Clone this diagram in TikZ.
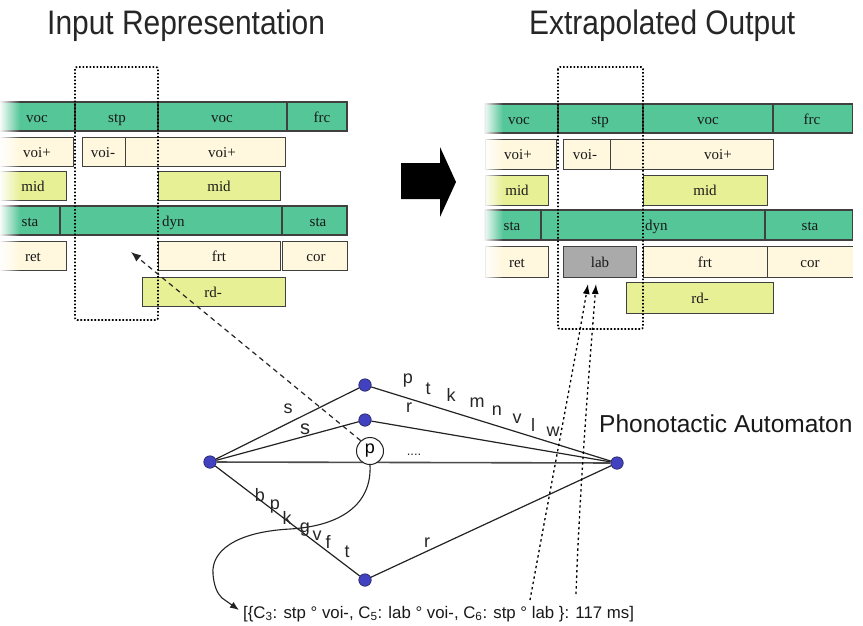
\documentclass[tikz,border=0pt]{standalone}
\usepackage{fontspec}
\setmainfont{Liberation Serif}
\setsansfont{Liberation Sans}
\usetikzlibrary{arrows.meta,shadows,fadings}

\definecolor{cgreen}{RGB}{84,198,152}
\definecolor{ccream}{RGB}{255,248,222}
\definecolor{cmid}{RGB}{232,240,150}
\definecolor{cgrey}{RGB}{170,170,170}
\definecolor{cnode}{RGB}{66,66,192}
\definecolor{cline}{RGB}{35,35,35}

\tikzset{
  cell/.style={draw=black!75, line width=0.9pt, inner sep=0pt, outer sep=0pt, anchor=north west},
  grn/.style={cell, fill=cgreen, line width=1.3pt},
  crm/.style={cell, fill=ccream, drop shadow={shadow xshift=1.2pt, shadow yshift=-1.2pt, opacity=0.35}},
  yel/.style={cell, fill=cmid, drop shadow={shadow xshift=1.2pt, shadow yshift=-1.2pt, opacity=0.35}},
  gry/.style={cell, fill=cgrey, drop shadow={shadow xshift=1.2pt, shadow yshift=-1.2pt, opacity=0.35}},
  celltxt/.style={inner sep=0pt, anchor=base, text=black!90, font=\fontsize{15}{15}\selectfont},
  selbox/.style={draw=black, line width=1.7pt, dash pattern=on 1.6pt off 1.9pt, rounded corners=2pt},
  title/.style={inner sep=0pt, anchor=base west, text=black!85, font=\sffamily\fontsize{34}{34}\selectfont},
  anode/.style={circle, fill=cnode, draw=cnode!45!black, line width=0.6pt, minimum size=12.5pt, inner sep=0pt},
  edge/.style={draw=cline, line width=1.2pt},
  elab/.style={inner sep=0pt, text=black!85, font=\sffamily\fontsize{18}{18}\selectfont},
  dsh/.style={draw=black!85, line width=1.2pt, dash pattern=on 5pt off 4pt, -{Latex[length=10pt,width=8pt]}},
  dots/.style={draw=black, line width=1.3pt, dash pattern=on 2.4pt off 3pt, -{Latex[length=10pt,width=7pt]}},
}

% cell: name, x1, y1, x2, y2, style
\newcommand\tcell[6]{\node[#6, minimum width={(#4-#2)*1pt}, minimum height={(#5-#3)*1pt}] (#1) at (#2,#3) {};}
% label: name, x, baseline y, text
\newcommand\tlab[4]{\node[celltxt] (#1) at (#2,#3) {#4};}

\begin{document}
\begin{tikzpicture}[x=1pt,y=-1pt]
\useasboundingbox (0,0) rectangle (863,625);
\fill[white] (0,0) rectangle (863,625);

% ---------- titles ----------
\node[title] (tin) at (47,34) {\scalebox{0.88}[1]{Input Representation}};
\node[title] (tout) at (529,34) {\scalebox{0.88}[1]{Extrapolated Output}};

% ---------- input table ----------
\tcell{a11}{-3}{102}{75}{131}{grn}
\tcell{a12}{75}{102}{158}{131}{grn}
\tcell{a13}{158}{102}{287}{131}{grn}
\tcell{a14}{287}{102}{347}{131}{grn}
\tcell{a21}{-3}{137}{73}{166}{crm}
\tcell{a22}{82}{137}{125}{166}{crm}
\tcell{a23}{125}{137}{285}{166}{crm}
\tcell{a31}{-3}{171}{66}{200}{yel}
\tcell{a32}{158}{171}{280}{200}{yel}
\tcell{a41}{-3}{206}{60}{235}{grn}
\tcell{a42}{60}{206}{282}{235}{grn}
\tcell{a43}{282}{206}{347}{235}{grn}
\tcell{a51}{-3}{241}{66}{270}{crm}
\tcell{a52}{158}{241}{280}{270}{crm}
\tcell{a53}{282}{241}{347}{270}{crm}
\tcell{a61}{142}{277}{285}{306}{yel}

\tlab{la11}{37}{122}{voc}
\tlab{la12}{117}{122}{stp}
\tlab{la13}{222}{122}{voc}
\tlab{la14}{322}{122}{frc}
\tlab{la21}{37}{157}{voi+}
\tlab{la22}{103}{157}{voi-}
\tlab{la23}{222}{157}{voi+}
\tlab{la31}{33}{191}{mid}
\tlab{la32}{219}{191}{mid}
\tlab{la41}{30}{226}{sta}
\node[celltxt, anchor=base west] (la42) at (162,226) {dyn};
\tlab{la43}{318}{226}{sta}
\tlab{la51}{33}{261}{ret}
\tlab{la52}{219}{261}{frt}
\tlab{la53}{316}{261}{cor}
\tlab{la61}{213}{297}{rd-}

\draw[selbox] (75,67) rectangle (158,320);
\fill[white, path fading=east] (-1,95) rectangle (20,312);

% ---------- output table ----------
\tcell{b11}{485}{104}{558}{133}{grn}
\tcell{b12}{558}{104}{643}{133}{grn}
\tcell{b13}{643}{104}{773}{133}{grn}
\tcell{b14}{773}{104}{853}{133}{grn}
\tcell{b21}{485}{139}{556}{169}{crm}
\tcell{b22}{563}{139}{610}{169}{crm}
\tcell{b23}{610}{139}{773}{169}{crm}
\tcell{b31}{485}{175}{548}{205}{yel}
\tcell{b32}{643}{175}{767}{205}{yel}
\tcell{b41}{485}{210}{541}{240}{grn}
\tcell{b42}{541}{210}{765}{240}{grn}
\tcell{b43}{765}{210}{853}{240}{grn}
\tcell{b51}{485}{246}{548}{277}{crm}
\tcell{b52}{563}{246}{636}{277}{gry}
\tcell{b53}{643}{246}{767}{277}{crm}
\tcell{b54}{767}{246}{853}{277}{crm}
\tcell{b61}{626}{282}{773}{313}{yel}

\tlab{lb11}{519}{124}{voc}
\tlab{lb12}{600}{124}{stp}
\tlab{lb13}{708}{124}{voc}
\tlab{lb14}{812}{124}{frc}
\tlab{lb21}{518}{159}{voi+}
\tlab{lb22}{585}{159}{voi-}
\tlab{lb23}{718}{159}{voi+}
\tlab{lb31}{517}{195}{mid}
\tlab{lb32}{705}{195}{mid}
\tlab{lb41}{512}{230}{sta}
\node[celltxt, anchor=base west] (lb42) at (645,230) {dyn};
\tlab{lb43}{810}{230}{sta}
\tlab{lb51}{517}{267}{ret}
\tlab{lb52}{600}{267}{lab}
\tlab{lb53}{705}{267}{frt}
\tlab{lb54}{810}{267}{cor}
\tlab{lb61}{700}{303}{rd-}

\draw[selbox] (558,67) rectangle (643,329);
\fill[white, path fading=east] (483,95) rectangle (503,320);
\fill[white] (853,95) rectangle (863,320);

% ---------- block arrow ----------
\fill[black] (401,163) -- (440,163) -- (440,147) -- (456,182) -- (440,217)
  -- (440,199) -- (401,199) -- cycle;

% ---------- automaton ----------
\node[anode] (L) at (210,462) {};
\node[anode] (T1) at (365,385) {};
\node[anode] (T2) at (365,420) {};
\node[anode] (B) at (365,580) {};
\node[anode] (R) at (617,463) {};

\draw[edge] (L) -- (T1);
\draw[edge] (T1) -- (R);
\draw[edge] (L) -- (T2);
\draw[edge] (T2) -- (R);
\draw[edge, line width=1.6pt, draw=black!70] (L) -- (R);
\draw[edge] (L) -- (B);
\draw[edge] (B) -- (R);

\node[circle, draw=cline, line width=1pt, fill=white, minimum size=27pt, inner sep=0pt,
  font=\sffamily\fontsize{18}{18}\selectfont] (P) at (370,451) {p};

% edge labels
\node[elab] (s1) at (288,409) {s};
\node[elab, font=\sffamily\fontsize{20}{20}\selectfont] (s2) at (305,429) {s};
\node[elab] (c1) at (408,381) {p};
\node[elab] (c2) at (428,389) {t};
\node[elab] (c3) at (451,395) {k};
\node[elab] (c4) at (477,403) {m};
\node[elab] (c5) at (497,411) {n};
\node[elab] (c6) at (517,419) {v};
\node[elab] (c7) at (533,425) {l};
\node[elab] (c8) at (553,432) {w};
\node[elab] (r1) at (409,408) {r};
\node[elab, font=\sffamily\fontsize{13}{13}\selectfont] (dd) at (414,455) {....};
\node[elab] (d1) at (260,495) {b};
\node[elab] (d2) at (275,507) {p};
\node[elab] (d3) at (287,518) {k};
\node[elab] (d4) at (305,530) {g};
\node[elab] (d5) at (317,536) {v};
\node[elab] (d6) at (328,542) {f};
\node[elab] (d7) at (347,552) {t};
\node[elab] (r2) at (427,543) {r};

\node[inner sep=0pt, anchor=base west, text=black!90,
  font=\sffamily\fontsize{24.5}{24.5}\selectfont] (pa) at (599,432) {Phonotactic Automaton};

% ---------- constraint readout ----------
\node[inner sep=0pt, anchor=base west, text=black!90,
  font=\sffamily\fontsize{16.8}{16.8}\selectfont] (bt) at (243,618)
  {[\{C\textsubscript{3}: stp \textdegree\ voi-, C\textsubscript{5}: lab \textdegree\ voi-, C\textsubscript{6}: stp \textdegree\ lab \}: 117 ms]};

% ---------- connectors ----------
\coordinate (din) at (131,252);
\draw[dsh] (P.132) -- (din);

\coordinate (cbend) at (222,598);
\coordinate (cend) at (239,610);
\draw[edge, line width=1.1pt, -{Latex[length=9pt,width=7pt]}] (P.south)
  .. controls (372,505) and (340,526) .. (290,529)
  .. controls (234,532) and (211,552) .. (213,574)
  .. controls (214,586) and (217,593) .. (cbend) -- (cend);

\coordinate (sa) at (530,600);
\coordinate (sb) at (576,594);
\coordinate (la) at (588,284);
\coordinate (lb) at (596,284);
\draw[dots] (sa) .. controls (552,480) and (575,360) .. (la);
\draw[dots] (sb) .. controls (580,480) and (590,360) .. (lb);
\end{tikzpicture}
\end{document}
